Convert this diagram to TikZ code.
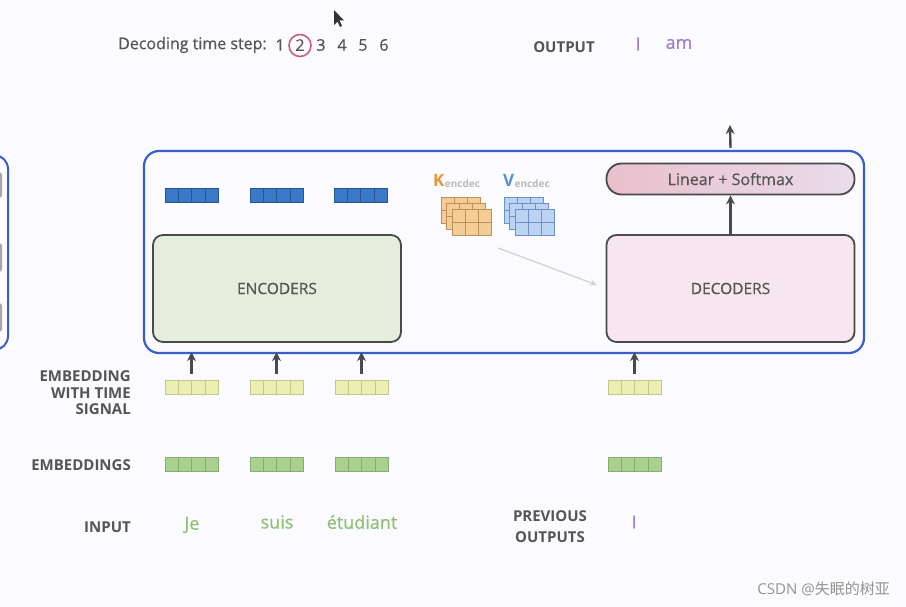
\documentclass[tikz,border=0pt]{standalone}
\usepackage{fontspec}
\setmainfont{Open Sans}
\newfontfamily\medfont{Open Sans}[FakeBold=0.5]
\newfontfamily\cjkfont{Noto Sans CJK SC}
\usetikzlibrary{calc,arrows.meta}
\definecolor{txtgray}{HTML}{555555}
\definecolor{frameblue}{HTML}{3B5FC9}
\definecolor{encfill}{HTML}{E4EEDD}
\definecolor{decfill}{HTML}{F8E6EE}
\definecolor{boxedge}{HTML}{4A4A4A}
\definecolor{bluebar}{HTML}{3A78C8}
\definecolor{bluebaredge}{HTML}{285494}
\definecolor{yelfill}{HTML}{EBF0B2}
\definecolor{yeledge}{HTML}{C2C78A}
\definecolor{grnfill}{HTML}{A9D08F}
\definecolor{grnedge}{HTML}{85AE6C}
\definecolor{wordgreen}{HTML}{8DC070}
\definecolor{wordpurple}{HTML}{9C82CC}
\definecolor{orfill}{HTML}{F4CD96}
\definecolor{oredge}{HTML}{BF9055}
\definecolor{blfill}{HTML}{BCD3F2}
\definecolor{bledge}{HTML}{6C90C8}
\definecolor{kor}{HTML}{E8963A}
\definecolor{vbl}{HTML}{5A8FD8}
\definecolor{circred}{HTML}{C8607A}
\definecolor{linL}{HTML}{E9C0CB}
\definecolor{linR}{HTML}{E9DCEC}
\tikzset{
  lbl/.style={font=\fontsize{15}{18}\selectfont\bfseries, text=txtgray},
  stepfont/.style={font=\fontsize{16}{18}\selectfont\medfont, text=txtgray},
  bigbox/.style={draw=boxedge, line width=1.8pt, rounded corners=10pt, minimum width=248pt, minimum height=107pt, inner sep=0pt, font=\fontsize{15.5}{18}\selectfont\medfont, text=txtgray},
  cellrow/.style={minimum width=53pt, minimum height=14pt, inner sep=0pt, line width=0.8pt},
  bluerow/.style={cellrow, fill=bluebar, draw=bluebaredge},
  yelrow/.style={cellrow, fill=yelfill, draw=yeledge},
  grnrow/.style={cellrow, fill=grnfill, draw=grnedge},
  uparrow/.style={-{Stealth[length=9pt,width=9pt]}, line width=2.4pt, draw=boxedge},
  word/.style={font=\fontsize{18}{20}\selectfont\medfont},
}
\newcommand\celllines[2]{%
  \foreach \i in {1,2,3} \draw[#2, line width=0.8pt] ($(#1.south west)!\i/4!(#1.south east)$) -- ($(#1.north west)!\i/4!(#1.north east)$);}
\newcommand\matlayer[4]{% x y fill edge
  \draw[fill=#3, draw=#4, line width=0.8pt] (#1,#2) rectangle ++(39,26);
  \draw[draw=#4, line width=0.8pt] (#1+13,#2) -- ++(0,26) (#1+26,#2) -- ++(0,26) (#1,#2+13) -- ++(39,0);}
\begin{document}
\begin{tikzpicture}[x=1pt,y=-1pt]
\useasboundingbox[fill=white] (0,0) rectangle (906,607);
\fill[white!98!blue] (0,0) rectangle (906,607);
% left partial frame
\begin{scope}
\clip (0,0) rectangle (906,607);
\draw[frameblue, line width=2pt, rounded corners=14pt] (-60,155) rectangle (8,350);
\fill[gray!70, rounded corners=3pt] (-20,172) rectangle (2,198);
\fill[gray!70, rounded corners=3pt] (-20,243) rectangle (2,272);
\fill[gray!70, rounded corners=3pt] (-20,303) rectangle (2,332);
\end{scope}
% main frame
\node[draw=frameblue, line width=2.2pt, rounded corners=15pt, minimum width=720pt, minimum height=202pt, inner sep=0pt] (frame) at (504,252) {};
% encoders / decoders
\node[bigbox, fill=encfill] (enc) at (277,288.5) {ENCODERS};
\node[bigbox, fill=decfill] (dec) at (730.5,288.5) {DECODERS};
% linear softmax
\node[draw=boxedge, line width=1.8pt, rounded corners=15pt, minimum width=248pt, minimum height=31pt, inner sep=0pt, left color=linL, right color=linR, font=\fontsize{16}{18}\selectfont\medfont, text=txtgray] (lin) at (730.5,179) {Linear + Softmax};
\draw[uparrow] (dec.north) -- (lin.south);
\coordinate (outtop) at (730,125);
\draw[uparrow] (lin.north|-frame.north) ++(0,-2) coordinate (ftop) (ftop) -- (outtop);
% encoder output bars
\node[bluerow] (b1) at (191.5,195) {}; \celllines{b1}{bluebaredge}
\node[bluerow] (b2) at (276.5,195) {}; \celllines{b2}{bluebaredge}
\node[bluerow] (b3) at (360.5,195) {}; \celllines{b3}{bluebaredge}
% K V
\node[anchor=base west, inner sep=0pt, font=\fontsize{17}{18}\selectfont\bfseries, text=kor] (K) at (433,187) {K};
\node[anchor=base west, inner sep=0pt, font=\fontsize{10}{10}\selectfont\bfseries, text=gray!55] (Ksub) at ([yshift=-1pt]K.base east) {encdec};
\node[anchor=base west, inner sep=0pt, font=\fontsize{17}{18}\selectfont\bfseries, text=vbl] (V) at (503,187) {V};
\node[anchor=base west, inner sep=0pt, font=\fontsize{10}{10}\selectfont\bfseries, text=gray!55] (Vsub) at ([yshift=-1pt]V.base east) {encdec};
\matlayer{441}{197}{orfill}{oredge}
\matlayer{446.5}{203}{orfill}{oredge}
\matlayer{452}{209}{orfill}{oredge}
\matlayer{504}{197}{blfill}{bledge}
\matlayer{509.5}{203}{blfill}{bledge}
\matlayer{515}{209}{blfill}{bledge}
\coordinate (kvfrom) at (498,248);
\coordinate (kvto) at (597,285);
\draw[-{Stealth[length=7pt,width=6pt]}, gray!35, line width=1.3pt] (kvfrom) -- (kvto);
% time-signal rows
\node[yelrow] (y1) at (191.5,387) {}; \celllines{y1}{yeledge}
\node[yelrow] (y2) at (276.5,387) {}; \celllines{y2}{yeledge}
\node[yelrow] (y3) at (361.5,387) {}; \celllines{y3}{yeledge}
\node[yelrow] (y4) at (634.5,387) {}; \celllines{y4}{yeledge}
\draw[uparrow] (y1.north)++(0,-6) coordinate (a1) (a1) -- ([yshift=2pt]a1|-frame.south);
\draw[uparrow] (y2.north)++(0,-6) coordinate (a2) (a2) -- ([yshift=2pt]a2|-frame.south);
\draw[uparrow] (y3.north)++(0,-6) coordinate (a3) (a3) -- ([yshift=2pt]a3|-frame.south);
\draw[uparrow] (y4.north)++(0,-6) coordinate (a4) (a4) -- ([yshift=2pt]a4|-frame.south);
% embeddings rows
\node[grnrow] (g1) at (191.5,464) {}; \celllines{g1}{grnedge}
\node[grnrow] (g2) at (276.5,464) {}; \celllines{g2}{grnedge}
\node[grnrow] (g3) at (361.5,464) {}; \celllines{g3}{grnedge}
\node[grnrow] (g4) at (634.5,464) {}; \celllines{g4}{grnedge}
% labels
\node[lbl, anchor=east, align=right, inner sep=0pt, font=\fontsize{15}{16.5}\selectfont\bfseries] (lts) at (131,393) {EMBEDDING\\WITH TIME\\SIGNAL};
\node[lbl, anchor=east, inner sep=0pt] (lemb) at (131,465) {EMBEDDINGS};
\node[lbl, anchor=east, inner sep=0pt] (linp) at (131,527) {INPUT};
\node[lbl, align=center, inner sep=0pt, font=\fontsize{15}{21}\selectfont\bfseries] (lprev) at (550,527) {PREVIOUS\\OUTPUTS};
\node[lbl, inner sep=0pt] (lout) at (564,47) {OUTPUT};
% words
\node[word, text=wordgreen, inner sep=0pt] (w1) at (192,525) {Je};
\node[word, text=wordgreen, inner sep=0pt] (w2) at (277,522) {suis};
\node[word, text=wordgreen, inner sep=0pt] (w3) at (362,522) {étudiant};
\node[word, text=wordpurple, inner sep=0pt] (wp) at (634,522) {I};
\node[word, text=wordpurple, inner sep=0pt] (o1) at (638,44) {I};
\node[word, text=wordpurple, inner sep=0pt] (o2) at (679,44) {am};
% decoding time step
\node[stepfont, anchor=west, inner sep=0pt] (dts) at (118,45) {Decoding time step:};
\node[stepfont, inner sep=0pt] (s1) at (280,45) {1};
\node[stepfont, inner sep=0pt] (s2) at (300,45) {2};
\node[draw=circred, line width=1.6pt, circle, minimum size=22pt, inner sep=0pt] (c2) at (300,45.5) {};
\node[stepfont, inner sep=0pt] (s3) at (321,45) {3};
\node[stepfont, inner sep=0pt] (s4) at (342,45) {4};
\node[stepfont, inner sep=0pt] (s5) at (363,45) {5};
\node[stepfont, inner sep=0pt] (s6) at (384,45) {6};
% cursor
\fill[black!80] (334,10) -- (334,25) -- (337.5,21.5) -- (340,27) -- (342,26) -- (339.5,20.5) -- (344,20.5) -- cycle;
% watermark
\node[anchor=east, inner sep=0pt, text=gray!85, font=\fontsize{15}{18}\selectfont] (wm) at (890,589) {CSDN @{\cjkfont 失眠的树亚}};
\end{tikzpicture}
\end{document}
